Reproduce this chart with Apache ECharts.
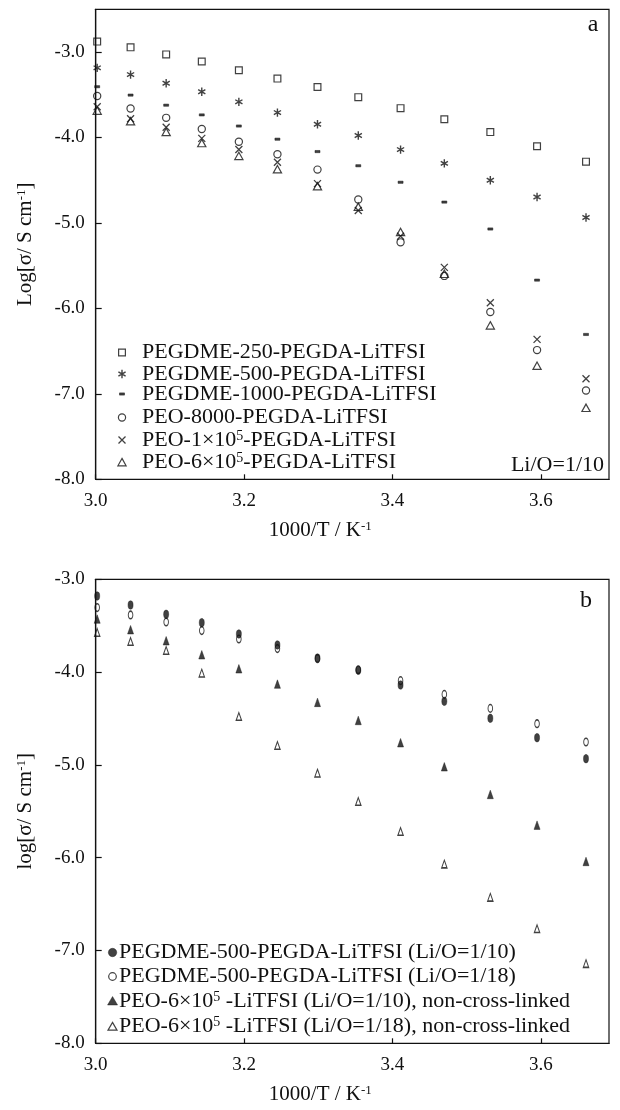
<!DOCTYPE html>
<html><head><meta charset="utf-8">
<script src="https://cdn.jsdelivr.net/npm/echarts@6/dist/echarts.min.js"></script>
<style>html,body{margin:0;padding:0;background:#fff}#c{width:620px;height:1110px}</style>
</head><body><div id="c"></div>
<script>
// ---------- data ----------
const xValues = [3.002, 3.047, 3.095, 3.143, 3.193, 3.245, 3.299, 3.354, 3.411, 3.470, 3.532, 3.595, 3.661];
const xTickLabels = ['3.0', '3.2', '3.4', '3.6'];
const yTickLabels = ['-8.0', '-7.0', '-6.0', '-5.0', '-4.0', '-3.0'];

// panel a (Li/O = 1/10)
const aNames = ['PEGDME-250-PEGDA-LiTFSI', 'PEGDME-500-PEGDA-LiTFSI', 'PEGDME-1000-PEGDA-LiTFSI',
  'PEO-8000-PEGDA-LiTFSI', 'PEO-1×10^5-PEGDA-LiTFSI', 'PEO-6×10^5-PEGDA-LiTFSI'];
const aLabels = ['PEGDME-250-PEGDA-LiTFSI', 'PEGDME-500-PEGDA-LiTFSI', 'PEGDME-1000-PEGDA-LiTFSI',
  'PEO-8000-PEGDA-LiTFSI', 'PEO-1×10{s|5}-PEGDA-LiTFSI', 'PEO-6×10{s|5}-PEGDA-LiTFSI'];
const aPEGDME250 = [-2.878, -2.945, -3.028, -3.110, -3.213, -3.311, -3.409, -3.528, -3.657, -3.787, -3.937, -4.102, -4.283];
const aPEGDME500 = [-3.185, -3.264, -3.366, -3.465, -3.583, -3.709, -3.846, -3.976, -4.142, -4.303, -4.500, -4.697, -4.937];
const aPEGDME1000 = [-3.406, -3.504, -3.622, -3.736, -3.866, -4.020, -4.165, -4.331, -4.524, -4.756, -5.071, -5.669, -6.305];
const aPEO8000 = [-3.514, -3.660, -3.770, -3.900, -4.050, -4.196, -4.376, -4.726, -5.227, -5.620, -6.043, -6.488, -6.961];
const aPEO1e5 = [-3.640, -3.780, -3.880, -4.010, -4.140, -4.290, -4.540, -4.855, -5.156, -5.520, -5.934, -6.363, -6.824];
const aPEO6e5 = [-3.690, -3.815, -3.940, -4.070, -4.220, -4.376, -4.575, -4.816, -5.110, -5.600, -6.203, -6.676, -7.168];

// panel b
const bNames = ['PEGDME-500-PEGDA-LiTFSI (Li/O=1/10)', 'PEGDME-500-PEGDA-LiTFSI (Li/O=1/18)',
  'PEO-6×10^5 -LiTFSI (Li/O=1/10), non-cross-linked', 'PEO-6×10^5 -LiTFSI (Li/O=1/18), non-cross-linked'];
const bLabels = ['PEGDME-500-PEGDA-LiTFSI (Li/O=1/10)', 'PEGDME-500-PEGDA-LiTFSI (Li/O=1/18)',
  'PEO-6×10{s|5} -LiTFSI (Li/O=1/10), non-cross-linked', 'PEO-6×10{s|5} -LiTFSI (Li/O=1/18), non-cross-linked'];
const bPEGDME500_10 = [-3.180, -3.277, -3.377, -3.467, -3.589, -3.708, -3.848, -3.981, -4.139, -4.315, -4.498, -4.707, -4.933];
const bPEGDME500_18 = [-3.305, -3.384, -3.460, -3.553, -3.643, -3.747, -3.855, -3.975, -4.092, -4.240, -4.391, -4.556, -4.753];
const bPEO6e5_10 = [-3.431, -3.546, -3.665, -3.816, -3.967, -4.132, -4.329, -4.524, -4.764, -5.023, -5.321, -5.652, -6.043];
const bPEO6e5_18 = [-3.575, -3.672, -3.769, -4.013, -4.480, -4.793, -5.091, -5.397, -5.720, -6.071, -6.429, -6.768, -7.143];

// ---------- styling ----------
const FONT = 'Liberation Serif';
const INK = '#111';
const B20 = 'M0,0 M20,20 ';
const B12 = 'M0,0 M12,20 ';
const symA = [
  'path://' + B20 + 'M6.6,6.6 L13.4,6.6 L13.4,13.4 L6.6,13.4 Z',
  'path://' + B20 + 'M10,5.8 L10,14.2 M6.4,7.9 L13.6,12.1 M6.4,12.1 L13.6,7.9',
  'path://' + B20 + 'M7.5,8.9 L12.5,8.9 L12.5,11.1 L7.5,11.1 Z',
  'path://' + B20 + 'M13.6,10 A3.6,3.6 0 1 1 6.4,10 A3.6,3.6 0 1 1 13.6,10 Z',
  'path://' + B20 + 'M6.5,6.5 L13.5,13.5 M6.5,13.5 L13.5,6.5',
  'path://' + B20 + 'M10,5.9 L14.1,13.3 L5.9,13.3 Z'
];
const styA = [
  {color: 'none', borderColor: INK, borderWidth: 1.2},
  {color: 'none', borderColor: INK, borderWidth: 1.4},
  {color: INK, borderColor: INK, borderWidth: 0.6},
  {color: 'none', borderColor: INK, borderWidth: 1.2},
  {color: 'none', borderColor: INK, borderWidth: 1.3},
  {color: 'none', borderColor: INK, borderWidth: 1.2}
];
const symB = [
  'path://' + B12 + 'M10.2,10 A4.2,4.2 0 1 1 1.8,10 A4.2,4.2 0 1 1 10.2,10 Z',
  'path://' + B12 + 'M9.8,10 A3.8,3.8 0 1 1 2.2,10 A3.8,3.8 0 1 1 9.8,10 Z',
  'path://' + B12 + 'M6,5.5 L11,14 L1,14 Z',
  'path://' + B12 + 'M6,5.9 L10.5,13.6 L1.5,13.6 Z'
];
const styB = [
  {color: INK, borderColor: INK, borderWidth: 0.5},
  {color: 'none', borderColor: INK, borderWidth: 1.2},
  {color: INK, borderColor: INK, borderWidth: 0.5},
  {color: 'none', borderColor: INK, borderWidth: 1.2}
];
const aLegendCenters = [351, 372.5, 394, 416, 438.5, 461];
const bLegendCenters = [952.5, 975, 1001, 1025];

const sup = {fontSize: 14, fontFamily: FONT, color: INK, verticalAlign: 'top', lineHeight: 2};
const legendText = {fontSize: 22, fontFamily: FONT, color: INK, lineHeight: 22, rich: {s: sup}};

function fmtTick(list) {
  return function (v) { const s = v.toFixed(1); return list.indexOf(s) >= 0 ? s : ''; };
}
function xAxisFor(gi) {
  return {
    gridIndex: gi, type: 'value', min: 3.0, max: 3.692, interval: 0.2,
    name: '1000/T / K{s|-1}', nameLocation: 'middle', nameGap: 41,
    nameTextStyle: {fontSize: 21, fontFamily: FONT, color: INK, padding: [0, 64, 0, 0],
      rich: {s: {fontSize: 13, fontFamily: FONT, color: INK, verticalAlign: 'top', lineHeight: 6}}},
    axisLine: {show: true, lineStyle: {color: INK, width: 1.2}},
    axisTick: {show: true, inside: true, length: 5, lineStyle: {color: INK, width: 1.2}},
    axisLabel: {fontSize: 19, fontFamily: FONT, color: INK, margin: 12, showMaxLabel: false, formatter: fmtTick(xTickLabels)},
    splitLine: {show: false}
  };
}
function yAxisFor(gi, max, title) {
  return {
    gridIndex: gi, type: 'value', min: -8, max: max, interval: 1,
    name: title, nameLocation: 'middle', nameGap: 60, nameRotate: 90,
    nameTextStyle: {fontSize: 21, fontFamily: FONT, color: INK,
      rich: {s: {fontSize: 13, fontFamily: FONT, color: INK, verticalAlign: 'top', lineHeight: 6}}},
    axisLine: {show: true, lineStyle: {color: INK, width: 1.2}},
    axisTick: {show: true, inside: true, length: 6, lineStyle: {color: INK, width: 1.2}},
    axisLabel: {fontSize: 19, fontFamily: FONT, color: INK, margin: 11, showMaxLabel: max === -3, formatter: fmtTick(yTickLabels)},
    splitLine: {show: false}
  };
}

const aSeriesVals = [aPEGDME250, aPEGDME500, aPEGDME1000, aPEO8000, aPEO1e5, aPEO6e5];
const bSeriesVals = [bPEGDME500_10, bPEGDME500_18, bPEO6e5_10, bPEO6e5_18];

const series = [];
aSeriesVals.forEach((vals, i) => {
  series.push({
    type: 'scatter', name: aNames[i], xAxisIndex: 0, yAxisIndex: 0,
    symbol: symA[i], symbolSize: 20, symbolKeepAspect: true,
    itemStyle: styA[i], silent: true, z: 10 - i,
    data: xValues.map((x, k) => [x, vals[k]])
  });
});
bSeriesVals.forEach((vals, i) => {
  series.push({
    type: 'scatter', name: bNames[i], xAxisIndex: 1, yAxisIndex: 1,
    symbol: symB[i], symbolSize: [12, 20], symbolKeepAspect: true,
    itemStyle: styB[i], silent: true, z: 10 - i,
    data: xValues.map((x, k) => [x, vals[k]])
  });
});

// unfilled icons get a wider hit box (2.5px each side), so shift them back
const legends = [];
aNames.forEach((n, i) => {
  const hollow = styA[i].color === 'none';
  legends.push({
    data: [{name: n, itemStyle: {borderWidth: styA[i].borderWidth}}],
    left: hollow ? 109.5 : 111.7, top: aLegendCenters[i] - 11, padding: 0, itemGap: 0,
    itemWidth: 20, itemHeight: 20, selectedMode: false,
    textStyle: Object.assign({padding: [0, 0, 0, 5]}, legendText),
    formatter: function () { return aLabels[i]; }
  });
});
bNames.forEach((n, i) => {
  const hollow = styB[i].color === 'none';
  legends.push({
    data: [{name: n, itemStyle: {borderWidth: styB[i].borderWidth}}],
    left: hollow ? 104 : 106.3, top: bLegendCenters[i] - 11, padding: 0, itemGap: 0,
    itemWidth: 12, itemHeight: 20, selectedMode: false,
    textStyle: Object.assign({padding: [0, 0, 0, -4.5]}, legendText),
    formatter: function () { return bLabels[i]; }
  });
});

const chart = echarts.init(document.getElementById('c'), null, {renderer: 'canvas'});
chart.setOption({
  backgroundColor: '#fff',
  animation: false,
  grid: [
    {left: 95.7, top: 9.3, width: 513.3, height: 470, show: true, borderColor: INK, borderWidth: 1.2, backgroundColor: 'transparent'},
    {left: 95.7, top: 579.3, width: 513.3, height: 464, show: true, borderColor: INK, borderWidth: 1.2, backgroundColor: 'transparent'}
  ],
  xAxis: [xAxisFor(0), xAxisFor(1)],
  yAxis: [yAxisFor(0, -2.5, 'Log[σ/ S cm{s|-1}]'), yAxisFor(1, -3, 'log[σ/ S cm{s|-1}]')],
  legend: legends,
  series: series,
  graphic: [
    {type: 'text', x: 593, y: 25, style: {text: 'a', font: '24px "Liberation Serif"', fill: INK, textAlign: 'center', textVerticalAlign: 'middle'}},
    {type: 'text', x: 586, y: 601, style: {text: 'b', font: '24px "Liberation Serif"', fill: INK, textAlign: 'center', textVerticalAlign: 'middle'}},
    {type: 'text', x: 604, y: 476, style: {text: 'Li/O=1/10', font: '22px "Liberation Serif"', fill: INK, textAlign: 'right', textVerticalAlign: 'bottom'}}
  ]
});
</script></body></html>
